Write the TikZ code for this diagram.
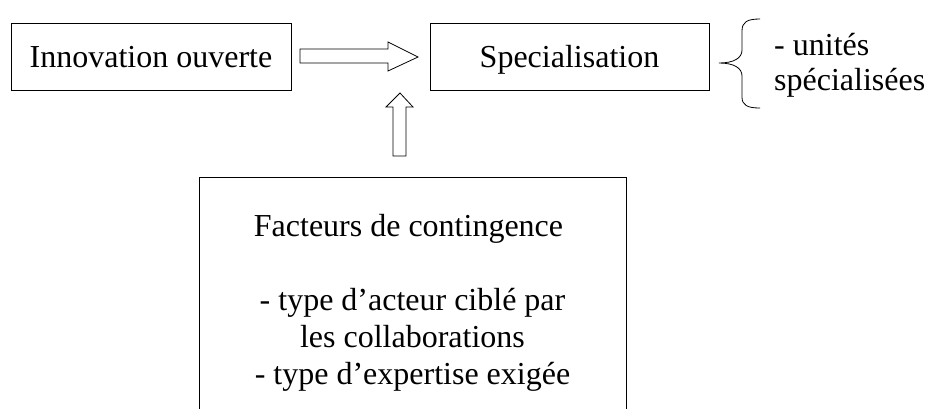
\documentclass[tikz,border=0pt]{standalone}
\usepackage{fontspec}
\setmainfont{Liberation Serif}
\begin{document}
\begin{tikzpicture}[x=1pt,y=-1pt,
  boxstyle/.style={draw=black,line width=0.9pt,rectangle,inner sep=0pt,
    font=\fontsize{32}{37}\selectfont},
  topbox/.style={boxstyle,text height=21pt,text depth=0pt},
  blockarrow/.style={draw=black,line width=0.8pt,fill=white,line join=miter},
  bracestyle/.style={draw=black,line width=0.8pt},
  sidetext/.style={inner sep=0pt,align=left,font=\fontsize{32}{35}\selectfont}]
\clip (0,0) rectangle (928,408);
\fill[white] (0,0) rectangle (928,408);

\node[topbox,minimum width=280pt,minimum height=67pt] (innov) at (151,56.5) {Innovation ouverte};
\node[topbox,minimum width=279pt,minimum height=67pt] (spec) at (569.5,56.5) {Specialisation};

\node[boxstyle,align=center,minimum width=427pt,minimum height=252pt] (cont) at (412.5,303)
  {Facteurs de contingence\hspace*{0.25em}\\[37pt]
   - type d’acteur ciblé par\hspace*{0.25em}\\
   les collaborations\\
   - type d’expertise exigée};

\node[sidetext,anchor=base west] (unites) at (774,90) {- unités\\spécialisées};

% horizontal block arrow
\draw[blockarrow] (300,49) -- (388,49) -- (388,42) -- (418,57) -- (388,71) -- (388,63) -- (300,63) -- cycle;
% vertical block arrow
\draw[blockarrow] (393,156) -- (393,107) -- (386,107) -- (400,93) -- (413,107) -- (406,107) -- (406,156) -- cycle;

% brace
\draw[bracestyle] (760,19) .. controls (747,19) and (742,22) .. (742,31)
  -- (742,50) .. controls (742,58) and (734,63) .. (719,63)
  .. controls (734,63) and (742,68) .. (742,76)
  -- (742,97) .. controls (742,105) and (747,108) .. (760,108);
\end{tikzpicture}
\end{document}
